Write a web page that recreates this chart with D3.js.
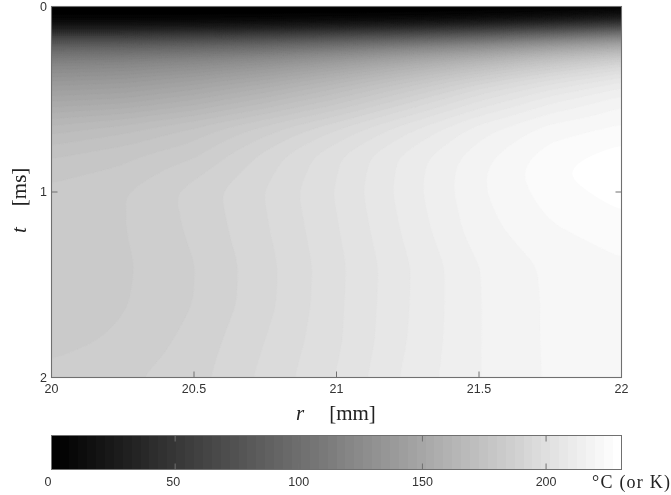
<!DOCTYPE html>
<html>
<head>
<meta charset="utf-8">
<script src="https://cdn.jsdelivr.net/npm/d3@7"></script>
<style>
  html, body { margin: 0; padding: 0; background: #fff; }
  svg { display: block; filter: blur(0.4px); }
  .tick-label { font-family: "Liberation Sans", Arial, sans-serif; font-size: 12.5px; fill: #333; }
  .math { font-family: "Liberation Serif", serif; fill: #222; }
</style>
</head>
<body>
<div id="chart"></div>
<script>
// radius [mm] and time [ms] positions of the table below
const rValues = [20, 20.25, 20.5, 20.75, 21, 21.25, 21.5, 21.75, 22];
const tValues = [0, 0.03, 0.07, 0.1, 0.13, 0.18, 0.23, 0.29, 0.4, 0.5, 0.65, 0.8, 0.9, 1, 1.2, 1.4, 1.6, 1.8, 2];
// temperature, one row per t
const temperature = [
  [0, 0, 0, 0, 0, 0, 0, 0, 0],
  [0, 0, 0, 0, 0, 0, 0, 2, 5],
  [3, 3, 3, 4, 5, 5, 9, 16, 27],
  [14, 14, 14, 16, 20, 25, 32, 41, 54],
  [36, 36, 38, 41, 47, 54, 65, 79, 95],
  [74, 74, 76, 81, 88, 97, 108, 122, 135],
  [97, 97, 101, 106, 115, 126, 137, 151, 162],
  [117, 119, 123, 130, 140, 152, 164, 177, 189],
  [137, 139, 145, 153, 164, 176, 189, 200, 209],
  [150, 152, 158, 167, 177, 189, 201, 211, 218],
  [167, 171, 177, 185, 194, 204, 214, 221, 224],
  [176, 179, 183, 192, 201, 210, 218, 225, 228.5],
  [179, 181, 186.5, 193.5, 201.5, 210.5, 219, 226, 230],
  [181, 183.4, 188.6, 194.6, 202, 210.7, 219, 225, 228.5],
  [181, 183.4, 188, 194, 201.3, 209.8, 218, 222.8, 225.3],
  [181, 183, 187.1, 193.2, 200.6, 208.6, 216.1, 220.5, 222.7],
  [181, 183.3, 187.3, 193.3, 200.8, 208.7, 216, 220.3, 222.3],
  [182.3, 184.4, 188.5, 194.5, 201, 209, 216, 220.3, 222.2],
  [185, 186.5, 189.5, 195.5, 201.8, 209.8, 216, 220.2, 222]
];
const rTicks = [20, 20.5, 21, 21.5, 22];
const rTickLabels = ["20", "20.5", "21", "21.5", "22"];
const tTicks = [0, 1, 2];
const barTicks = [0, 50, 100, 150, 200];
const barLabelShift = [-3.5, -2, 0, 0, 0];
const maxTemp = 230.5;
const nLevels = 64;

const width = 671, height = 495;
const svg = d3.select("#chart").append("svg").attr("width", width).attr("height", height);

const x = d3.scaleLinear().domain([20, 22]).range([51.5, 621.5]);
const y = d3.scaleLinear().domain([0, 2]).range([6.5, 377.5]);
const xBar = d3.scaleLinear().domain([0, maxTemp]).range([51.5, 621.5]);

const levels = d3.range(nLevels);
const levelColor = k => { const g = Math.round(255 * k / (nLevels - 1)); return `rgb(${g},${g},${g})`; };
const levelValue = k => k * maxTemp / nLevels;

// sample the table on a fine grid for the contour generator
const nx = 286, ny = 186;
const rAt = i => 20 + 2 * i / (nx - 1);
const tAt = j => 2 * j / (ny - 1);
const rIdx = d3.scaleLinear().domain(rValues).range(d3.range(rValues.length)).clamp(true);
const tIdx = d3.scaleLinear().domain(tValues).range(d3.range(tValues.length)).clamp(true);
const grid = new Float64Array(nx * ny);
for (let j = 0; j < ny; j++) {
  for (let i = 0; i < nx; i++) {
    const a = rIdx(rAt(i)), b = tIdx(tAt(j));
    const a0 = Math.min(Math.floor(a), rValues.length - 2), b0 = Math.min(Math.floor(b), tValues.length - 2);
    const u = a - a0, v = b - b0;
    grid[j * nx + i] = (1 - v) * ((1 - u) * temperature[b0][a0] + u * temperature[b0][a0 + 1])
      + v * ((1 - u) * temperature[b0 + 1][a0] + u * temperature[b0 + 1][a0 + 1]);
  }
}
d3.blur2({data: grid, width: nx, height: ny}, 3);

const contours = d3.contours().size([nx, ny]).smooth(true)
  .thresholds(levels.map(levelValue))(grid);
const project = d3.geoTransform({
  point(px, py) { this.stream.point(x(20 + 2 * (px - 0.5) / (nx - 1)), y(2 * (py - 0.5) / (ny - 1))); }
});
const path = d3.geoPath(project);

svg.append("clipPath").attr("id", "plot-clip").append("rect")
  .attr("x", x(20)).attr("y", y(0)).attr("width", x(22) - x(20)).attr("height", y(2) - y(0));

const plot = svg.append("g").attr("clip-path", "url(#plot-clip)");
plot.append("rect").attr("x", x(20)).attr("y", y(0))
  .attr("width", x(22) - x(20)).attr("height", y(2) - y(0)).attr("fill", "#000");
plot.selectAll("path").data(contours).enter().append("path")
  .attr("d", path)
  .attr("fill", (d, i) => levelColor(i))
  .attr("stroke", (d, i) => levelColor(i))
  .attr("stroke-width", 0.4);

// frame and inward ticks of the main panel
const frameColor = "#707070";
svg.append("rect").attr("x", x(20)).attr("y", y(0))
  .attr("width", x(22) - x(20)).attr("height", y(2) - y(0))
  .attr("fill", "none").attr("stroke", frameColor).attr("stroke-width", 1.1);

svg.append("g").selectAll("line").data(rTicks.slice(1, -1)).enter().append("line")
  .attr("x1", d => x(d)).attr("x2", d => x(d))
  .attr("y1", y(2)).attr("y2", y(2) - 6).attr("stroke", frameColor);
svg.append("g").selectAll("line").data(tTicks.slice(1, -1)).enter().append("line")
  .attr("x1", x(20)).attr("x2", x(20) + 6)
  .attr("y1", d => y(d)).attr("y2", d => y(d)).attr("stroke", frameColor);
svg.append("g").selectAll("line").data(tTicks.slice(1, -1)).enter().append("line")
  .attr("x1", x(22)).attr("x2", x(22) - 6)
  .attr("y1", d => y(d)).attr("y2", d => y(d)).attr("stroke", frameColor);

svg.append("g").selectAll("text").data(rTicks).enter().append("text")
  .attr("class", "tick-label").attr("text-anchor", "middle")
  .attr("x", d => x(d)).attr("y", 393)
  .text((d, i) => rTickLabels[i]);
svg.append("g").selectAll("text").data(tTicks).enter().append("text")
  .attr("class", "tick-label").attr("text-anchor", "end")
  .attr("x", 47).attr("y", d => y(d) + 4)
  .text(d => d);

// axis titles
const xTitle = svg.append("text").attr("class", "math").attr("x", 296).attr("y", 420).attr("font-size", 21);
xTitle.append("tspan").attr("font-style", "italic").text("r");
xTitle.append("tspan").attr("dx", 25).text("[mm]");
const yTitle = svg.append("text").attr("class", "math")
  .attr("transform", "translate(26,233) rotate(-90)").attr("font-size", 21);
yTitle.append("tspan").attr("font-style", "italic").text("t");
yTitle.append("tspan").attr("dx", 21).text("[ms]");

// colour bar
const barTop = 435.5, barH = 34;
svg.append("g").attr("shape-rendering", "crispEdges")
  .selectAll("rect").data(levels).enter().append("rect")
  .attr("x", k => Math.round(xBar(levelValue(k))))
  .attr("y", barTop)
  .attr("width", k => Math.round(xBar(levelValue(k + 1))) - Math.round(xBar(levelValue(k))))
  .attr("height", barH)
  .attr("fill", levelColor);
svg.append("rect").attr("x", xBar(0)).attr("y", barTop)
  .attr("width", xBar(maxTemp) - xBar(0)).attr("height", barH)
  .attr("fill", "none").attr("stroke", frameColor);
svg.append("g").selectAll("line").data(barTicks.slice(1)).enter().append("line")
  .attr("x1", d => xBar(d)).attr("x2", d => xBar(d))
  .attr("y1", barTop + barH).attr("y2", barTop + barH - 6).attr("stroke", frameColor);
svg.append("g").selectAll("line").data(barTicks.slice(1)).enter().append("line")
  .attr("x1", d => xBar(d)).attr("x2", d => xBar(d))
  .attr("y1", barTop).attr("y2", barTop + 6).attr("stroke", frameColor);
svg.append("g").selectAll("text").data(barTicks).enter().append("text")
  .attr("class", "tick-label").attr("text-anchor", "middle")
  .attr("x", (d, i) => xBar(d) + barLabelShift[i]).attr("y", 486)
  .text(d => d);
svg.append("text").attr("class", "math").attr("x", 592).attr("y", 487.5)
  .attr("font-size", 18).attr("textLength", 78).text("°C (or K)");
</script>
</body>
</html>
